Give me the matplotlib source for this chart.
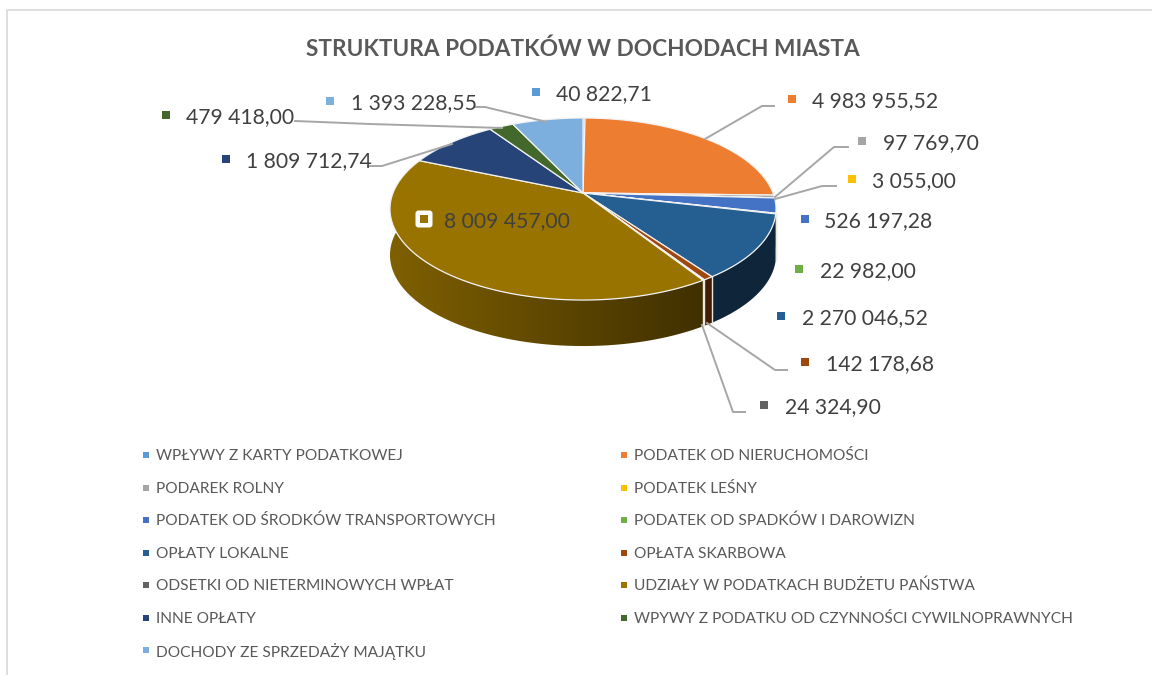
import numpy as np
import matplotlib
matplotlib.use('Agg')
import matplotlib.pyplot as plt
from matplotlib.patches import FancyBboxPatch, Polygon

plt.rcParams['font.family'] = ['Lato', 'DejaVu Sans']

# %% data
title = 'STRUKTURA PODATKÓW W DOCHODACH MIASTA'
categories = [
    'WPŁYWY Z KARTY PODATKOWEJ', 'PODATEK OD NIERUCHOMOŚCI',
    'PODAREK ROLNY', 'PODATEK LEŚNY',
    'PODATEK OD ŚRODKÓW TRANSPORTOWYCH', 'PODATEK OD SPADKÓW I DAROWIZN',
    'OPŁATY LOKALNE', 'OPŁATA SKARBOWA',
    'ODSETKI OD NIETERMINOWYCH WPŁAT', 'UDZIAŁY W PODATKACH BUDŻETU PAŃSTWA',
    'INNE OPŁATY', 'WPYWY Z PODATKU OD CZYNNOŚCI CYWILNOPRAWNYCH',
    'DOCHODY ZE SPRZEDAŻY MAJĄTKU',
]
values = [40822.71, 4983955.52, 97769.70, 3055.00, 526197.28, 22982.00,
          2270046.52, 142178.68, 24324.90, 8009457.00, 1809712.74,
          479418.00, 1393228.55]
value_labels = ['40 822,71', '4 983 955,52', '97 769,70', '3 055,00',
                '526 197,28', '22 982,00', '2 270 046,52', '142 178,68',
                '24 324,90', '8 009 457,00', '1 809 712,74', '479 418,00',
                '1 393 228,55']

# %% styles and layout (pixels of the picture)
colors = ['#5B9BD5', '#ED7D31', '#A5A5A5', '#FFC000', '#4472C4', '#70AD47',
          '#255E91', '#9E480E', '#636363', '#997300', '#264478', '#43682B',
          '#7CAFDD']
label_marker_xy = [(536, 92), (792, 99), (862, 141), (852, 179), (805, 219),
                   (799, 269), (781, 316), (805, 362), (764, 405), (424, 219),
                   (226, 159), (166, 115), (330, 101)]
label_text_x = [556, 812, 883, 872, 824, 820, 802, 826, 785, 444, 246, 186, 351]
leaders = [
    [(705, 139), (762, 106), (774, 106)],
    [(775, 197), (834, 147), (848, 147)],
    [(775, 199), (822, 186), (836, 186)],
    [(707, 323), (775, 370), (787, 370)],
    [(702, 325), (733, 412), (745, 412)],
    [(475, 107), (485, 107), (547, 122)],
    [(295, 121), (370, 124), (502, 128)],
    [(368, 166), (382, 166), (452, 144)],
]
legend_x = [146, 624]
legend_y = [455, 488, 520, 553, 585, 618, 650]

cx, cy = 583, 193      # centre of the pie top
bx, ay = 190, 88.2     # radii before perspective
persp = 0.176          # perspective strength
depth = 46             # wall height


def project(t):
    # angle clockwise from the back of the disc -> picture coordinates
    u, v = np.sin(t), np.cos(t)
    w = 1 + persp * v
    return cx + bx * u / w, cy - ay * v / w


def wall_strip(color):
    # one row of colours over the pie width, darker from left to right
    rgb = np.array(matplotlib.colors.to_rgb(color))
    f = np.clip(0.83 - 0.43 * np.linspace(0, 2, 200) / 1.7, 0.4, None)
    return f[None, :, None] * rgb[None, None, :]


fig = plt.figure(figsize=(11.52, 6.75), dpi=100)
ax = fig.add_axes([0, 0, 1, 1])

# frame
ax.plot([7, 7, 1152], [675, 10, 10], color='#D9D9D9', lw=1.2, zorder=1)

# %% pie
edges = np.r_[0, np.cumsum(values)] / np.sum(values) * 2 * np.pi

# walls, only the front part can be seen
for i, col in enumerate(colors):
    n = max(2, int((edges[i + 1] - edges[i]) / 0.01))
    ts = np.linspace(edges[i], edges[i + 1], n + 1)
    ts = ts[np.cos(ts) < 0.3]
    if len(ts) < 2:
        continue
    xs, ys = project(ts)
    poly = np.c_[np.r_[xs, xs[::-1]], np.r_[ys, ys[::-1] + depth]]
    im = ax.imshow(wall_strip(col), extent=(cx - 194, cx + 194, 400, 150),
                   aspect='auto', interpolation='bilinear', zorder=2)
    im.set_clip_path(Polygon(poly, transform=ax.transData))

# white seams on the wall
for t in edges:
    if np.cos(t) < -0.1:
        x0, y0 = project(t)
        ax.plot([x0, x0], [y0, y0 + depth], color='#EDE8DC', lw=1.0, zorder=3)

# top face
for i, col in enumerate(colors):
    n = max(2, int((edges[i + 1] - edges[i]) / 0.01))
    ts = np.linspace(edges[i], edges[i + 1], n + 1)
    xs, ys = project(ts)
    ax.fill(np.r_[cx, xs], np.r_[cy, ys], facecolor=col, edgecolor='#F2F2F2',
            lw=0.9, joinstyle='round', zorder=4)

# %% leader lines
for pts in leaders:
    xs, ys = zip(*pts)
    ax.plot(xs, ys, color='#A6A6A6', lw=1.4, zorder=5)

# %% data labels
for i, txt in enumerate(value_labels):
    mx, my = label_marker_xy[i]
    if i == 9:
        ax.add_patch(FancyBboxPatch((mx - 6, my - 6), 12, 12,
                                    boxstyle='round,pad=2.5,rounding_size=3',
                                    fc='white', ec='none', zorder=6))
    ax.plot([mx], [my], 's', color=colors[i], ms=5.5, mew=0, zorder=7)
    ax.text(label_text_x[i], my + 2.5, txt, fontsize=15.2, color='#404040',
            ha='left', va='center', zorder=7)

# %% title
ax.text(583, 49, title, fontsize=16.3, fontweight='bold', color='#595959',
        ha='center', va='center')

# %% legend
for i, name in enumerate(categories):
    lx = legend_x[i % 2]
    ly = legend_y[i // 2]
    ax.plot([lx], [ly], 's', color=colors[i], ms=4.2, mew=0)
    ax.text(lx + 10, ly + 1, name, fontsize=11.2, color='#595959',
            ha='left', va='center')

ax.set_xlim(0, 1152)
ax.set_ylim(675, 0)
ax.axis('off')

fig.savefig('out.png', dpi=100, facecolor='white')
